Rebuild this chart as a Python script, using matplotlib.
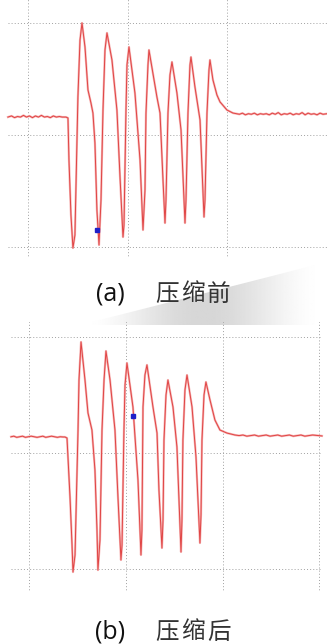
import matplotlib.pyplot as plt
import numpy as np
from matplotlib.patches import Polygon

# ---- waveform (a): time / amplitude in screen divisions ----
t_a = [-1.206, -1.17, -1.14, -1.11, -1.08, -1.05, -1.02, -0.99, -0.96, -0.93, -0.90,
       -0.87, -0.84, -0.81, -0.78, -0.75, -0.72, -0.69, -0.66,
       -0.623, -0.603, -0.593, -0.573, -0.553, -0.533, -0.513, -0.503, -0.482, -0.462,
       -0.432, -0.402, -0.372, -0.352, -0.332, -0.312, -0.291, -0.271, -0.251, -0.231,
       -0.211, -0.161, -0.111, -0.080, -0.050, -0.040, -0.020, -0.010, 0.010, 0.070,
       0.121, 0.151, 0.171, 0.181, 0.201, 0.211, 0.291, 0.322, 0.352, 0.372, 0.382,
       0.402, 0.422, 0.442, 0.492, 0.533, 0.573, 0.583, 0.603, 0.623, 0.633, 0.673,
       0.724, 0.764, 0.774, 0.794, 0.814, 0.824, 0.854, 0.894, 0.925, 0.995, 1.055,
       1.09, 1.12, 1.15, 1.18, 1.21, 1.24, 1.27, 1.30, 1.33, 1.36,
       1.39, 1.42, 1.45, 1.48, 1.51, 1.54, 1.57, 1.60, 1.63, 1.66,
       1.69, 1.72, 1.75, 1.78, 1.81, 1.84, 1.87, 1.90, 1.93, 1.96,
       2.00]
v_a = [0.16, 0.17, 0.155, 0.165, 0.16, 0.175, 0.16, 0.17, 0.155, 0.17, 0.16,
       0.175, 0.16, 0.165, 0.155, 0.17, 0.16, 0.165, 0.16,
       0.16, 0.152, -0.223, -0.714, -1.009, -0.893, -0.071, 0.339, 0.848, 1.0,
       0.786, 0.402, 0.286, 0.196, -0.071, -0.670, -0.982, -0.580, 0.223, 0.759,
       0.911, 0.670, 0.223, -0.375, -0.911, -0.804, 0.223, 0.625, 0.786, 0.375,
       -0.223, -0.848, -0.491, 0.196, 0.625, 0.759, 0.339, 0.196, -0.402, -0.786, -0.580,
       0.196, 0.536, 0.652, 0.375, 0.045, -0.786, -0.580, 0.196, 0.625, 0.696, 0.429,
       0.134, -0.732, -0.580, 0.196, 0.580, 0.670, 0.491, 0.357, 0.295, 0.223, 0.196,
       0.19, 0.185, 0.195, 0.18, 0.19, 0.185, 0.195, 0.18, 0.19, 0.185,
       0.19, 0.18, 0.195, 0.185, 0.2, 0.18, 0.19, 0.185, 0.195, 0.18,
       0.19, 0.185, 0.2, 0.18, 0.195, 0.185, 0.19, 0.18, 0.195, 0.185,
       0.19]
marker_a = (-0.312, -0.848)

# ---- waveform (b) ----
t_b = [-1.189, -1.16, -1.13, -1.10, -1.07, -1.04, -1.01, -0.98, -0.95, -0.92, -0.89,
       -0.86, -0.83, -0.80, -0.77, -0.74, -0.71, -0.68, -0.65,
       -0.631, -0.610, -0.579, -0.558, -0.548, -0.527, -0.496, -0.486, -0.465, -0.424,
       -0.393, -0.352, -0.321, -0.300, -0.290, -0.269, -0.248, -0.227, -0.207, -0.165,
       -0.114, -0.083, -0.052, -0.041, -0.021, -0.010, 0.010, 0.072, 0.124, 0.155,
       0.165, 0.176, 0.196, 0.217, 0.279, 0.321, 0.341, 0.372, 0.383, 0.393, 0.414,
       0.434, 0.486, 0.527, 0.569, 0.579, 0.589, 0.610, 0.631, 0.683, 0.724, 0.765,
       0.776, 0.786, 0.807, 0.827, 0.869, 0.920, 0.972, 1.044, 1.127,
       1.17, 1.21, 1.25, 1.29, 1.33, 1.37, 1.41, 1.45, 1.49, 1.53,
       1.57, 1.61, 1.65, 1.69, 1.73, 1.77, 1.81, 1.85, 1.89, 1.93,
       2.027]
v_b = [0.14, 0.145, 0.135, 0.14, 0.145, 0.135, 0.14, 0.145, 0.14, 0.135, 0.14,
       0.145, 0.135, 0.14, 0.145, 0.14, 0.135, 0.14, 0.138,
       0.138, 0.129, -0.379, -0.793, -1.026, -0.879, 0.198, 0.629, 0.957, 0.629,
       0.345, 0.198, -0.147, -0.664, -1.009, -0.750, 0.198, 0.629, 0.879, 0.629,
       0.198, -0.379, -0.922, -0.793, 0.198, 0.586, 0.776, 0.397, -0.233, -0.879,
       -0.664, 0.397, 0.672, 0.759, 0.397, 0.172, -0.319, -0.819, -0.578, 0.112, 0.500,
       0.629, 0.397, 0.052, -0.853, -0.578, 0.112, 0.543, 0.672, 0.397, -0.034, -0.776,
       -0.534, 0.112, 0.500, 0.612, 0.457, 0.284, 0.198, 0.172, 0.155,
       0.15, 0.155, 0.145, 0.15, 0.155, 0.145, 0.15, 0.155, 0.145, 0.15,
       0.155, 0.145, 0.15, 0.155, 0.145, 0.15, 0.155, 0.145, 0.15, 0.155,
       0.147]
marker_b = (0.072, 0.319)

captions = [("(a)", "压缩前"), ("(b)", "压缩后")]

W, H = 327, 644
fig = plt.figure(figsize=(W / 100, H / 100), dpi=100)


def px_axes(left, top, right, bottom):
    return fig.add_axes([left / W, 1 - bottom / H, (right - left) / W, (bottom - top) / H])


def draw_panel(ax, t, v, marker, xlim, ylim, xgrid, ygrid):
    ax.set_xlim(*xlim)
    ax.set_ylim(*ylim)
    ax.axis("off")
    grid_kw = dict(color="#a0a0a0", linewidth=0.7, linestyles=(0, (1.0, 2.2)))
    ax.hlines([-1, 0, 1], xgrid[0], xgrid[1], **grid_kw)
    ax.vlines([-1, 0, 1, 2], ygrid[0], ygrid[1], **grid_kw)
    ax.plot(t, v, color="#f6b4b4", linewidth=1.6, solid_joinstyle="round")
    ax.plot(t, v, color="#e04444", linewidth=0.7, solid_joinstyle="round")
    ax.plot(*marker, marker="s", markersize=3, color="#2020c8", linestyle="none")


ax_a = px_axes(0, 0, 327, 258)
draw_panel(ax_a, t_a, v_a, marker_a, (-1.286, 2.0), (-1.098, 1.205),
           (-1.206, 2.0), (-1.13, 1.25))

ax_b = px_axes(0, 322, 327, 592)
draw_panel(ax_b, t_b, v_b, marker_b, (-1.303, 2.079), (-1.198, 1.129),
           (-1.189, 2.027), (-1.23, 1.15))

# scanned-page shading behind caption (a)
bg = fig.add_axes([0, 0, 1, 1], zorder=-1)
bg.set_xlim(0, W)
bg.set_ylim(H, 0)
bg.axis("off")
grad = np.linspace(0, 1, 200)
shade = 1 - 0.16 * np.sin(np.pi * grad) ** 2
img = bg.imshow(np.tile(shade, (10, 1)), extent=(80, 327, 325, 262), cmap="gray",
                vmin=0, vmax=1, aspect="auto")
tri = Polygon([(80, 325), (327, 262), (327, 325)], closed=True, transform=bg.transData)
img.set_clip_path(tri)

cjk = ["Noto Sans CJK SC", "DejaVu Sans"]
for (tag, label), y in zip(captions, [294, 632]):
    fig.text(110 / W, 1 - y / H, tag, ha="center", va="center", fontsize=18,
             family="Open Sans", color="#111111")
    for k, ch in enumerate(label):
        fig.text((167 + 26 * k) / W, 1 - y / H, ch, ha="center", va="center",
                 fontsize=17, family=cjk, fontweight="light", color="#333333")

fig.savefig("out.png", dpi=100)
